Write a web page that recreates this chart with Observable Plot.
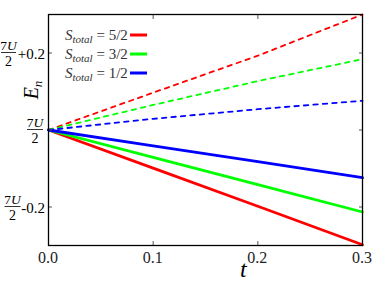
<!DOCTYPE html>
<html><head><meta charset="utf-8">
<script src="https://cdn.jsdelivr.net/npm/d3@7"></script>
<script src="https://cdn.jsdelivr.net/npm/@observablehq/plot@0.6"></script>
<style>
html,body{margin:0;padding:0;background:#fff}
#chart svg, #chart svg text { font-family: "Liberation Serif", "DejaVu Serif", serif !important; }
</style>
</head><body><div id="chart"></div>
<script>
// ---- data ----
const tValues = [0, 0.1, 0.2, 0.3];
const seriesNames = ["5/2", "3/2", "1/2"];
const seriesColors = ["#ff0000", "#00ff00", "#0000ff"];
const solid52 = [0, -0.099, -0.198, -0.298];
const solid32 = [0, -0.071, -0.142, -0.213];
const solid12 = [0, -0.041, -0.082, -0.124];
const dashed52 = [0, 0.097, 0.193, 0.300];
const dashed32 = [0, 0.065, 0.127, 0.184];
const dashed12 = [0, 0.029, 0.054, 0.076];
const xTicks = [0, 0.1, 0.2, 0.3];
const xInnerTicks = [0.1, 0.2];
const yTicks = [0.2, 0, -0.2];
const yTickSuffix = ["+0.2", "", "-0.2"];
const xLabel = "t";
const yLabel = ["E", "n"];
const legendPrefix = ["S", "total"];

const SERIF = "Liberation Serif, DejaVu Serif, serif";

const solidSets = [solid52, solid32, solid12];
const dashedSets = [dashed52, dashed32, dashed12];
const rows = (sets) => sets.flatMap((vals, i) => vals.map((E, j) => ({t: tValues[j], E, s: seriesNames[i]})));
const solidRows = rows(solidSets);
const dashedRows = rows(dashedSets);

// per-label layout for the y tick labels (fraction centre, bar width)
const yLabelLayout = [
  {cx: 8.5, bar: 15},
  {cx: 35, bar: 16},
  {cx: 12.5, bar: 16}
];

function decorations(index, scales, values, dims) {
  const {width, height, marginLeft, marginTop, marginRight, marginBottom} = dims;
  const g = d3.create("svg:g").style("font-family", SERIF).attr("fill", "black");
  // y tick labels: 7U/2 fractions with offsets
  yTicks.forEach((v, i) => {
    const y = scales.y(v);
    const L = yLabelLayout[i];
    const num = g.append("text").attr("x", L.cx).attr("y", y - 3)
      .attr("text-anchor", "middle").attr("font-size", 13.5);
    num.append("tspan").text("7");
    num.append("tspan").attr("font-style", "italic").text("U");
    g.append("line").attr("x1", L.cx - L.bar / 2).attr("x2", L.cx + L.bar / 2)
      .attr("y1", y).attr("y2", y).attr("stroke", "black").attr("stroke-width", 0.8);
    g.append("text").attr("x", L.cx).attr("y", y + 13)
      .attr("text-anchor", "middle").attr("font-size", 14).text("2");
    if (yTickSuffix[i]) {
      g.append("text").attr("x", marginLeft - 3).attr("y", y + 6)
        .attr("text-anchor", "end").attr("font-size", 15).text(yTickSuffix[i]);
    }
  });
  // x tick labels
  xTicks.forEach(v => {
    g.append("text").attr("x", scales.x(v)).attr("y", height - marginBottom + 18)
      .attr("text-anchor", "middle").attr("font-size", 16).attr("fill", "#222")
      .text(d3.format(".1f")(v));
  });
  // x label
  g.append("text").attr("x", scales.x(0.2) - 14).attr("y", height - 12)
    .attr("text-anchor", "middle").attr("font-size", 24).attr("font-style", "italic").text(xLabel);
  // y label (rotated)
  const yl = g.append("text").attr("transform", `translate(38,${marginTop + 76}) rotate(-90)`)
    .attr("text-anchor", "middle").attr("font-size", 20).attr("font-style", "italic");
  yl.append("tspan").text(yLabel[0]);
  yl.append("tspan").attr("font-size", 13).attr("dy", 4).text(yLabel[1]);
  // legend
  seriesNames.forEach((s, i) => {
    const by = marginTop + 26 + i * 19;
    const tx = g.append("text").attr("x", marginLeft + 17).attr("y", by)
      .attr("text-anchor", "start").attr("font-size", 15).attr("fill", "#333");
    tx.append("tspan").attr("font-style", "italic").text(legendPrefix[0]);
    tx.append("tspan").attr("font-style", "italic").attr("font-size", 11).attr("dy", 3).text(legendPrefix[1]);
    tx.append("tspan").attr("dy", -3).text(" = " + s);
    g.append("line").attr("x1", marginLeft + 82).attr("x2", marginLeft + 99)
      .attr("y1", by - 5).attr("y2", by - 5)
      .attr("stroke", seriesColors[i]).attr("stroke-width", 3);
  });
  return g.node();
}

const plot = Plot.plot({
  width: 374,
  height: 289,
  marginLeft: 48,
  marginRight: 12,
  marginTop: 14,
  marginBottom: 44,
  x: {domain: [0, 0.3]},
  y: {domain: [-0.3, 0.3]},
  color: {domain: seriesNames, range: seriesColors},
  style: {background: "white", color: "black", overflow: "visible"},
  marks: [
    Plot.line(dashedRows, {x: "t", y: "E", z: "s", stroke: "s", strokeWidth: 1.8, strokeDasharray: "4.5,5"}),
    Plot.line(solidRows, {x: "t", y: "E", z: "s", stroke: "s", strokeWidth: 2.8}),
    Plot.axisX({anchor: "bottom", ticks: xInnerTicks, tickSize: -4, fill: "none", stroke: "#555", label: null}),
    Plot.axisX({anchor: "top", ticks: xInnerTicks, tickSize: -4, fill: "none", stroke: "#555", label: null}),
    Plot.axisY({anchor: "left", ticks: yTicks, tickSize: -4, fill: "none", stroke: "#555", label: null}),
    Plot.axisY({anchor: "right", ticks: yTicks, tickSize: -4, fill: "none", stroke: "#555", label: null}),
    Plot.frame({stroke: "black", strokeWidth: 1.3}),
    decorations
  ]
});
document.getElementById("chart").appendChild(plot);
</script>
</body></html>
